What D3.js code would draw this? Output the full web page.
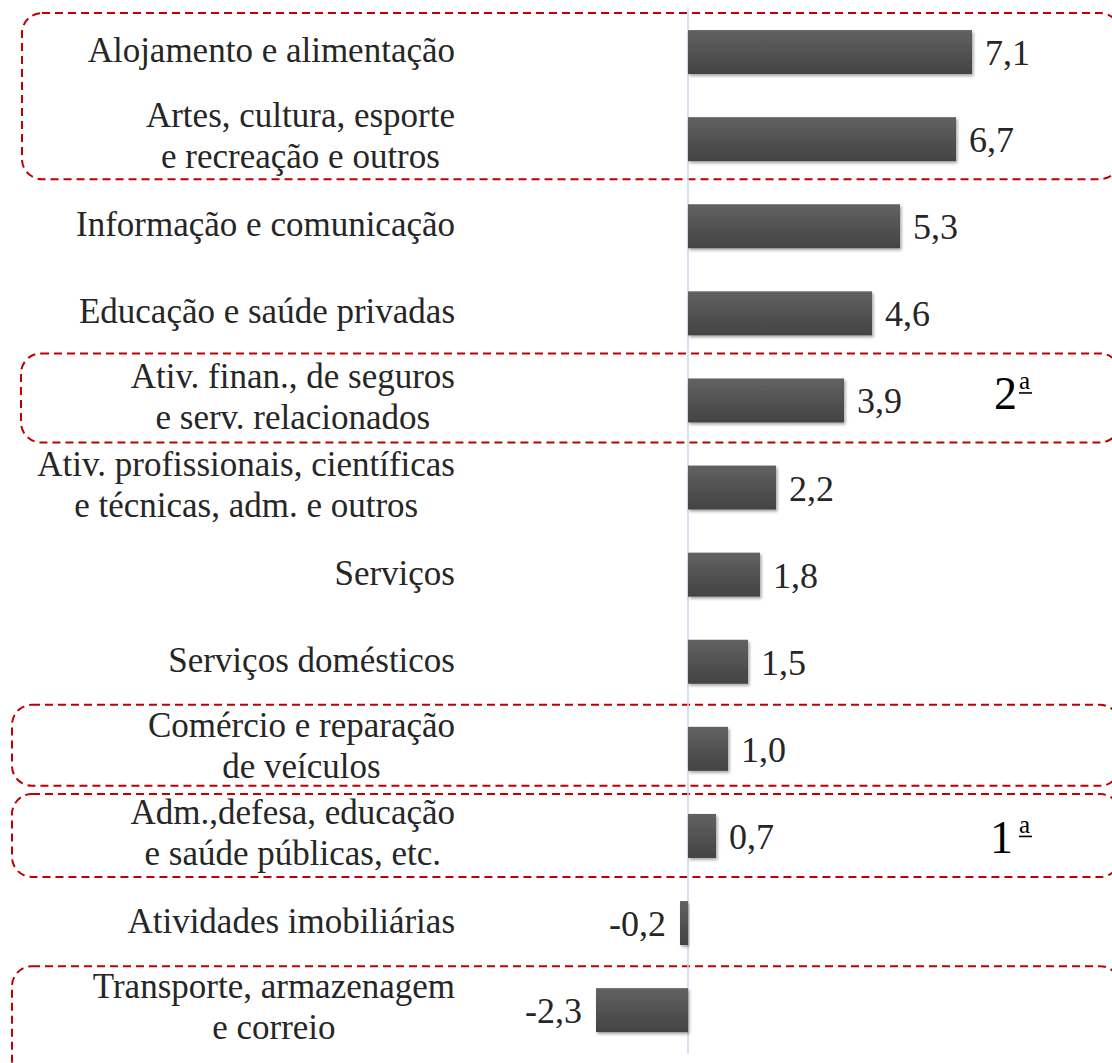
<!DOCTYPE html>
<html>
<head>
<meta charset="utf-8">
<script src="https://cdn.jsdelivr.net/npm/d3@7"></script>
<style>
  body { margin: 0; background: #fff; }
  svg { display: block; }
</style>
</head>
<body>
<svg width="1112" height="1063"></svg>
<script>
// categories, one entry per line of the label
var categories = [
    ['Alojamento e alimentação'],
    ['Artes, cultura, esporte', 'e recreação e outros'],
    ['Informação e comunicação'],
    ['Educação e saúde privadas'],
    ['Ativ. finan., de seguros', 'e serv. relacionados'],
    ['Ativ. profissionais, científicas', 'e técnicas, adm. e outros'],
    ['Serviços'],
    ['Serviços domésticos'],
    ['Comércio e reparação', 'de veículos'],
    ['Adm.,defesa, educação', 'e saúde públicas, etc.'],
    ['Atividades imobiliárias'],
    ['Transporte, armazenagem', 'e correio']
];
var values = [7.1, 6.7, 5.3, 4.6, 3.9, 2.2, 1.8, 1.5, 1.0, 0.7, -0.2, -2.3];

// highlighted groups (row indexes) and their ranking marks
var highlightRows = [[0, 1], [4], [8], [9], [11]];
var rankRows = [4, 9];
var rankLabels = ['2', '1'];

var svg = d3.select('svg');
var ink = '#262626';
var serif = '"Liberation Serif", "DejaVu Serif", serif';

var idx = d3.range(values.length);

var y = d3.scaleBand()
    .domain(idx)
    .range([8.5, 1053.7])
    .paddingInner(0.495)
    .paddingOuter(0.2475);

var x = d3.scaleLinear()
    .domain(d3.extent(values))
    .range([596, 972]);

var mid = i => y(i) + y.bandwidth() / 2;
var fmt = v => d3.format('.1f')(v).replace('.', ',').replace('\u2212', '-');

// gradient + shadow for bars
var defs = svg.append('defs');
var grad = defs.append('linearGradient')
    .attr('id', 'barGrad')
    .attr('x1', 0).attr('y1', 0).attr('x2', 0).attr('y2', 1);
grad.append('stop').attr('offset', '0%').attr('stop-color', '#626262');
grad.append('stop').attr('offset', '100%').attr('stop-color', '#434343');

var shadow = defs.append('filter')
    .attr('id', 'shadow')
    .attr('x', '-10%').attr('y', '-20%')
    .attr('width', '130%').attr('height', '160%');
shadow.append('feDropShadow')
    .attr('dx', 1.5).attr('dy', 2)
    .attr('stdDeviation', 1.8)
    .attr('flood-color', '#000')
    .attr('flood-opacity', 0.35);

// dashed highlight boxes (hand placed in the original, so offsets per box)
var boxLeft = [22, 21, 12, 12, 12];
var boxTop = [39, 47, 44, 42, 44];
var boxBottom = [40, 42, 37, 41, 70];
svg.append('g')
    .selectAll('rect')
    .data(highlightRows)
    .join('rect')
    .attr('x', (d, i) => boxLeft[i])
    .attr('y', (d, i) => mid(d[0]) - boxTop[i])
    .attr('width', (d, i) => 1120 - boxLeft[i])
    .attr('height', (d, i) => mid(d[d.length - 1]) + boxBottom[i] - (mid(d[0]) - boxTop[i]))
    .attr('rx', 20)
    .attr('fill', 'none')
    .attr('stroke', '#c00000')
    .attr('stroke-width', 2)
    .attr('stroke-dasharray', '8,5');

// zero line
svg.append('line')
    .attr('x1', x(0)).attr('x2', x(0))
    .attr('y1', y.range()[0]).attr('y2', y.range()[1])
    .attr('stroke', '#c6d9f1')
    .attr('stroke-width', 1.5);

// bars
svg.append('g')
    .selectAll('rect')
    .data(idx)
    .join('rect')
    .attr('x', i => x(Math.min(0, values[i])))
    .attr('y', i => y(i))
    .attr('width', i => Math.abs(x(values[i]) - x(0)))
    .attr('height', y.bandwidth())
    .attr('fill', 'url(#barGrad)')
    .attr('filter', 'url(#shadow)');

// value labels
svg.append('g')
    .selectAll('text')
    .data(idx)
    .join('text')
    .attr('x', i => values[i] >= 0 ? x(values[i]) + 13 : x(values[i]) - 14)
    .attr('y', i => mid(i) + 13)
    .attr('text-anchor', i => values[i] >= 0 ? 'start' : 'end')
    .attr('font-family', serif)
    .attr('font-size', 36)
    .attr('fill', ink)
    .text(i => fmt(values[i]));

// category labels, lines centred on each other, block right-aligned
var labelRight = 455;
var catG = svg.append('g')
    .selectAll('text')
    .data(idx)
    .join('text')
    .attr('font-family', serif)
    .attr('font-size', 35)
    .attr('fill', ink)
    .attr('text-anchor', 'middle');

catG.each(function(i) {
    var t = d3.select(this);
    var lines = categories[i];
    lines.forEach((s, k) => {
        t.append('tspan')
            .attr('y', lines.length === 1 ? mid(i) + 10 : mid(i) - 12 + k * 41)
            .text(s);
    });
    var w = d3.max(t.selectAll('tspan').nodes(), n => n.getComputedTextLength());
    t.selectAll('tspan').attr('x', labelRight - w / 2);
});

// ranking marks: number plus raised, underlined ordinal "a"
var rankShift = [9, 17];
var rank = svg.append('g')
    .selectAll('g')
    .data(rankRows)
    .join('g');

rank.append('text')
    .attr('x', (d, i) => rankLabels[i] === '1' ? 1013 : 1017)
    .attr('y', (d, i) => mid(d) + rankShift[i])
    .attr('text-anchor', 'end')
    .attr('font-family', serif)
    .attr('font-size', 46)
    .attr('fill', '#000')
    .text((d, i) => rankLabels[i]);

rank.append('text')
    .attr('x', 1019)
    .attr('y', (d, i) => mid(d) + rankShift[i] - 20)
    .attr('font-family', serif)
    .attr('font-size', 25)
    .attr('fill', '#000')
    .text('a');

rank.append('line')
    .attr('x1', 1019).attr('x2', 1032)
    .attr('y1', (d, i) => mid(d) + rankShift[i] - 16.5)
    .attr('y2', (d, i) => mid(d) + rankShift[i] - 16.5)
    .attr('stroke', '#000')
    .attr('stroke-width', 1.6);
</script>
</body>
</html>
